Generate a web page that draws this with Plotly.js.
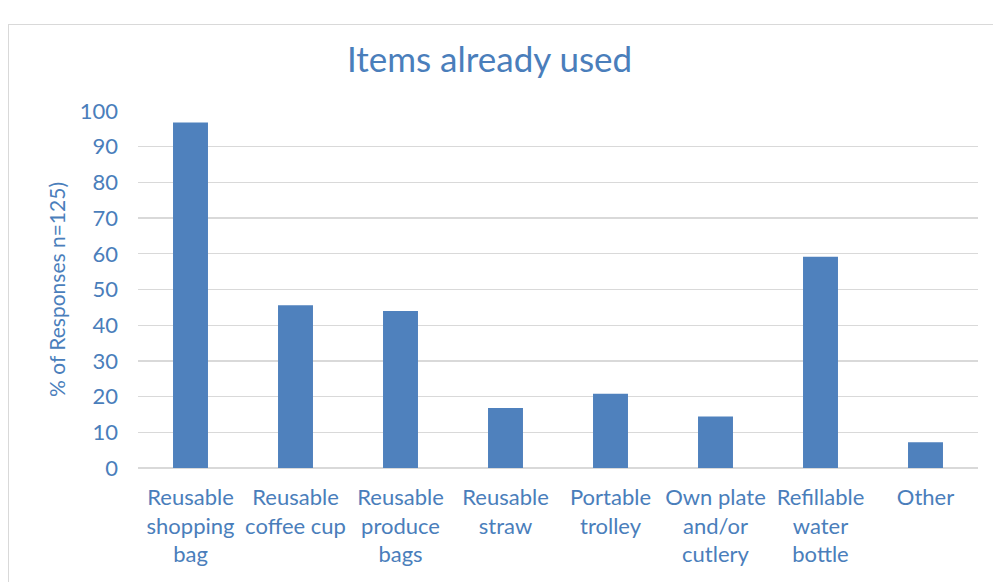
<!DOCTYPE html>
<html>
<head>
<meta charset="utf-8">
<script src="https://cdn.plot.ly/plotly-3.0.1.min.js"></script>
<style>
html,body{margin:0;padding:0;background:#fff;}
#wrap{position:relative;width:993px;height:582px;overflow:hidden;}
#frame{position:absolute;left:8px;top:24px;width:1000px;height:600px;border:1px solid #d9d9d9;box-sizing:border-box;pointer-events:none;}
#chart{position:absolute;left:0;top:0;width:993px;height:582px;}
</style>
</head>
<body>
<div id="wrap">
<div id="chart"></div>
<div id="frame"></div>
</div>
<script>
const categories = [
  "Reusable<br>shopping<br>bag",
  "Reusable<br>coffee cup",
  "Reusable<br>produce<br>bags",
  "Reusable<br>straw",
  "Portable<br>trolley",
  "Own plate<br>and/or<br>cutlery",
  "Refillable<br>water<br>bottle",
  "Other"
];
const values = [96.8, 45.6, 44.0, 16.8, 20.8, 14.4, 59.2, 7.2];
const yTicks = [0, 10, 20, 30, 40, 50, 60, 70, 80, 90, 100];

const textColor = "#4a7ebb";
const fontFam = "Lato, 'Open Sans', sans-serif";

Plotly.newPlot("chart", [{
  type: "bar",
  x: categories,
  y: values,
  marker: {color: "#4F81BD", line: {width: 0}},
  hoverinfo: "none"
}], {
  width: 993,
  height: 582,
  paper_bgcolor: "#fff",
  plot_bgcolor: "#fff",
  margin: {l: 138, r: 15, t: 111, b: 114},
  bargap: 0.667,
  showlegend: false,
  font: {family: fontFam, color: textColor},
  title: {
    text: "Items already used",
    font: {size: 35, color: textColor, family: fontFam},
    x: 0.493, xanchor: "center",
    y: 0.897, yanchor: "middle"
  },
  xaxis: {
    type: "category",
    tickfont: {size: 22, color: textColor},
    showgrid: false,
    showline: false,
    ticks: "",
    ticklabelstandoff: 14,
    fixedrange: true
  },
  yaxis: {
    range: [0, 100],
    tickvals: yTicks,
    ticktext: yTicks.map(String),
    tickfont: {size: 22, color: textColor},
    showgrid: true,
    gridcolor: "#d9d9d9",
    gridwidth: 1.3,
    zeroline: true,
    zerolinecolor: "#d9d9d9",
    zerolinewidth: 1.5,
    showline: false,
    ticks: "",
    ticklabelstandoff: 19,
    title: {
      text: "% of Responses n=125)",
      font: {size: 21, color: textColor},
      standoff: 8
    },
    fixedrange: true
  }
}, {staticPlot: true});
</script>
</body>
</html>
